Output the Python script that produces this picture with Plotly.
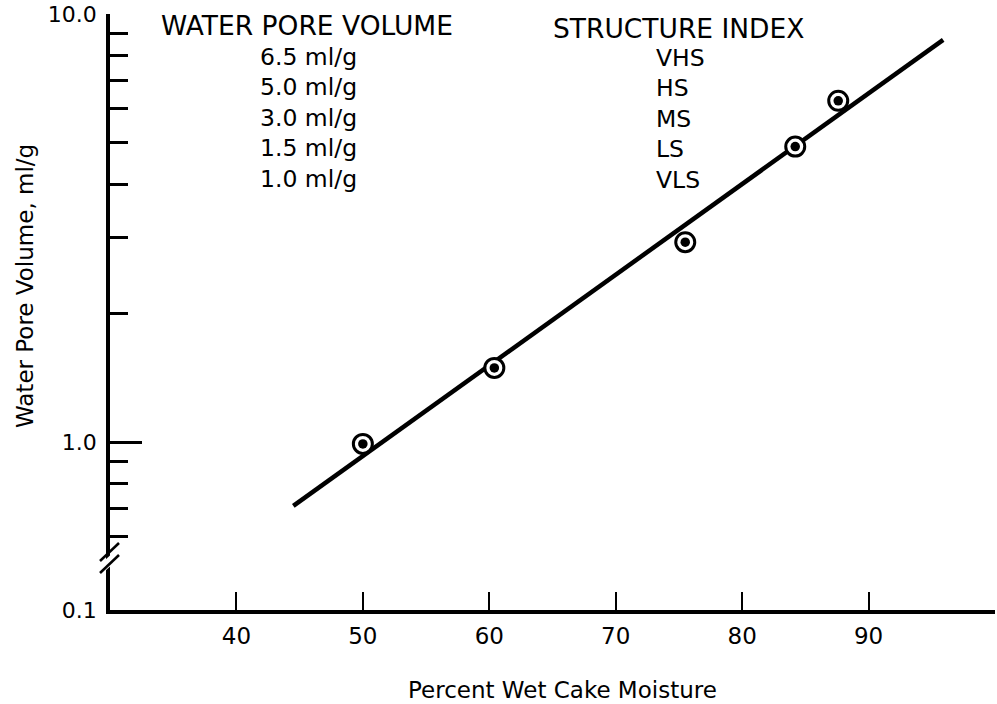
import plotly.graph_objects as go
import math

# ---- data ----
moisture = [50.0, 60.4, 75.5, 84.2, 87.6]
pore_volume = [0.99, 1.49, 2.93, 4.90, 6.27]
fit_x = [44.5, 95.9]
fit_y = [0.709, 8.70]

x_ticks = [40, 50, 60, 70, 80, 90, 100]
x_ticktext = ["40", "50", "60", "70", "80", "90", ""]
y_major = [1.0, 10.0]
y_minor = [0.6, 0.7, 0.8, 0.9, 2, 3, 4, 5, 6, 7, 8, 9]
y_bottom_label = "0.1"

legend_left_title = "WATER PORE VOLUME"
legend_left = ["6.5 ml/g", "5.0 ml/g", "3.0 ml/g", "1.5 ml/g", "1.0 ml/g"]
legend_right_title = "STRUCTURE INDEX"
legend_right = ["VHS", "HS", "MS", "LS", "VLS"]

# ---- layout geometry ----
W, H = 997, 704
L, R, T, B = 110, 2, 14, 94
pw, ph = W - L - R, H - T - B
y_lo, y_hi = -0.3925, 1.0
y_bottom_val = 10 ** y_lo

def px(x):
    return (x - L) / pw

def py(y):
    return (H - B - y) / ph

FONT = "DejaVu Sans"

fig = go.Figure()
fig.add_trace(go.Scatter(x=fit_x, y=fit_y, mode="lines",
                         line=dict(color="black", width=4.5), hoverinfo="skip"))
fig.add_trace(go.Scatter(x=moisture, y=pore_volume, mode="markers",
                         marker=dict(symbol="circle", size=19, color="white",
                                     line=dict(color="black", width=3))))
fig.add_trace(go.Scatter(x=moisture, y=pore_volume, mode="markers",
                         marker=dict(symbol="circle", size=9.5, color="black",
                                     line=dict(width=0))))

fig.update_layout(
    width=W, height=H, showlegend=False,
    margin=dict(l=L, r=R, t=T, b=B),
    paper_bgcolor="white", plot_bgcolor="white",
    font=dict(family=FONT, color="black", size=20),
    xaxis=dict(range=[30, 100], tickmode="array", tickvals=x_ticks, ticktext=x_ticktext,
               ticks="inside", ticklen=18, tickwidth=2, tickcolor="black",
               showline=True, linecolor="black", linewidth=3.5,
               showgrid=False, zeroline=False,
               tickfont=dict(size=23, family=FONT), ticklabelstandoff=3),
    yaxis=dict(type="log", range=[y_lo, y_hi], tickmode="array",
               tickvals=[y_bottom_val] + y_major,
               ticktext=[y_bottom_label, "1.0", "10.0"],
               ticks="inside", ticklen=32, tickwidth=2.5, tickcolor="black",
               showline=True, linecolor="black", linewidth=3.5,
               showgrid=False, zeroline=False,
               tickfont=dict(size=22, family=FONT), ticklabelstandoff=5,
               minor=dict(tickmode="array", tickvals=y_minor, ticks="inside",
                          ticklen=18, tickwidth=2.5, tickcolor="black", showgrid=False)),
)

ann = []
ann.append(dict(text="Percent Wet Cake Moisture", x=px(562), y=py(690), xref="paper", yref="paper",
                showarrow=False, font=dict(size=23), xanchor="center", yanchor="middle"))
ann.append(dict(text="Water Pore Volume, ml/g", x=px(25), y=py(286), xref="paper", yref="paper",
                showarrow=False, font=dict(size=23), textangle=-90, xanchor="center", yanchor="middle"))
ann.append(dict(text=legend_left_title, x=px(307), y=py(26), xref="paper", yref="paper",
                showarrow=False, font=dict(size=26.5), xanchor="center", yanchor="middle"))
ann.append(dict(text=legend_right_title, x=px(678), y=py(28), xref="paper", yref="paper",
                showarrow=False, font=dict(size=26.5), xanchor="center", yanchor="middle"))
for i, t in enumerate(legend_left):
    ann.append(dict(text=t, x=px(308), y=py(57 + 30.4 * i), xref="paper", yref="paper",
                    showarrow=False, font=dict(size=23.5), xanchor="center", yanchor="middle"))
for i, t in enumerate(legend_right):
    ann.append(dict(text=t, x=px(654), y=py(58 + 30.4 * i), xref="paper", yref="paper",
                    showarrow=False, font=dict(size=23.5), xanchor="left", yanchor="middle"))
fig.update_layout(annotations=ann)

# axis break marks
shapes = []
shapes.append(dict(type="path", xref="paper", yref="paper",
                   path=f"M {px(104)} {py(561)} L {px(116)} {py(550)} L {px(116)} {py(561)} L {px(104)} {py(572)} Z",
                   fillcolor="white", line=dict(width=0), layer="above"))
shapes.append(dict(type="line", xref="paper", yref="paper", x0=px(100), y0=py(561), x1=px(119), y1=py(543),
                   line=dict(color="black", width=2.5), layer="above"))
shapes.append(dict(type="line", xref="paper", yref="paper", x0=px(100), y0=py(573), x1=px(119), y1=py(555),
                   line=dict(color="black", width=2.5), layer="above"))
fig.update_layout(shapes=shapes)

fig.write_html("out.html")
